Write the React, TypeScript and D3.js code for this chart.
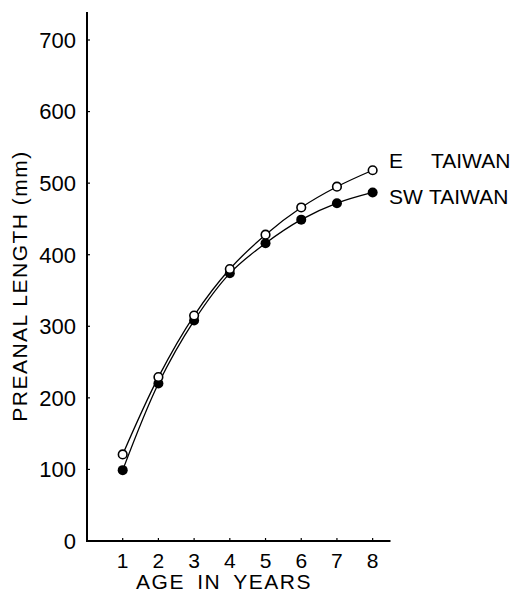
import React from "react";
import * as d3 from "d3";

const ages = [1, 2, 3, 4, 5, 6, 7, 8];
const eastTaiwan = [121, 229, 315, 380, 428, 466, 495, 518];
const swTaiwan = [99, 220, 308, 374, 416, 449, 472, 487];
const yTicks = [0, 100, 200, 300, 400, 500, 600, 700];
const xTicks = [1, 2, 3, 4, 5, 6, 7, 8];

const FONT = "'Liberation Sans', Arial, Helvetica, sans-serif";

export default function App() {
  const W = 512, H = 593;
  const x = d3.scaleLinear().domain([0, 8.5]).range([87, 390.5]);
  const y = d3.scaleLinear().domain([0, 700]).range([541, 40]);
  const yTop = y(739);

  const line = d3
    .line<[number, number]>()
    .x((d) => x(d[0]))
    .y((d) => y(d[1]))
    .curve(d3.curveCatmullRom.alpha(0.5));

  const eData: [number, number][] = ages.map((a, i) => [a, eastTaiwan[i]]);
  const swData: [number, number][] = ages.map((a, i) => [a, swTaiwan[i]]);

  return (
    <svg
      width={W}
      height={H}
      style={{ position: "absolute", left: 0, top: 0, background: "#fff" }}
      fontFamily={FONT}
    >
      <rect width={W} height={H} fill="#fff" />
      {/* axes */}
      <line x1={x(0)} x2={x(0)} y1={yTop} y2={y(0)} stroke="#000" strokeWidth={2} />
      <line x1={x(0) - 1} x2={x(8.5)} y1={y(0)} y2={y(0)} stroke="#000" strokeWidth={2} />
      {yTicks.map((t) => (
        <g key={"y" + t}>
          {t > 0 && (
            <line x1={x(0)} x2={x(0) + 3} y1={y(t)} y2={y(t)} stroke="#000" strokeWidth={1.2} />
          )}
          <text
            x={76}
            y={y(t)}
            dy="0.36em"
            textAnchor="end"
            fontSize={22}
            fill="#000"
          >
            {t}
          </text>
        </g>
      ))}
      {xTicks.map((t) => (
        <g key={"x" + t}>
          <line x1={x(t)} x2={x(t)} y1={y(0)} y2={y(0) - 3} stroke="#000" strokeWidth={1.2} />
          <text x={x(t)} y={568} textAnchor="middle" fontSize={21} fill="#000">
            {t}
          </text>
        </g>
      ))}
      <text x={224} y={589} textAnchor="middle" fontSize={21} letterSpacing={1.5} wordSpacing={5} fill="#000">
        AGE IN YEARS
      </text>
      <text
        transform={`translate(27, 286) rotate(-90)`}
        textAnchor="middle"
        fontSize={21}
        letterSpacing={1.5}
        fill="#000"
      >
        PREANAL LENGTH (mm)
      </text>

      {/* curves */}
      <path d={line(eData) || ""} fill="none" stroke="#000" strokeWidth={1.3} />
      <path d={line(swData) || ""} fill="none" stroke="#000" strokeWidth={1.3} />

      {swData.map((d, i) => (
        <circle key={"sw" + i} cx={x(d[0])} cy={y(d[1])} r={5} fill="#000" />
      ))}
      {eData.map((d, i) => (
        <circle
          key={"e" + i}
          cx={x(d[0])}
          cy={y(d[1])}
          r={4.3}
          fill="#fff"
          stroke="#000"
          strokeWidth={1.6}
        />
      ))}

      {/* legend labels */}
      <text x={389} y={168} fontSize={21} fill="#000">E</text>
      <text x={431} y={168} fontSize={21} fill="#000">TAIWAN</text>
      <text x={389} y={204} fontSize={21} fill="#000">SW</text>
      <text x={429} y={204} fontSize={21} fill="#000">TAIWAN</text>
    </svg>
  );
}
